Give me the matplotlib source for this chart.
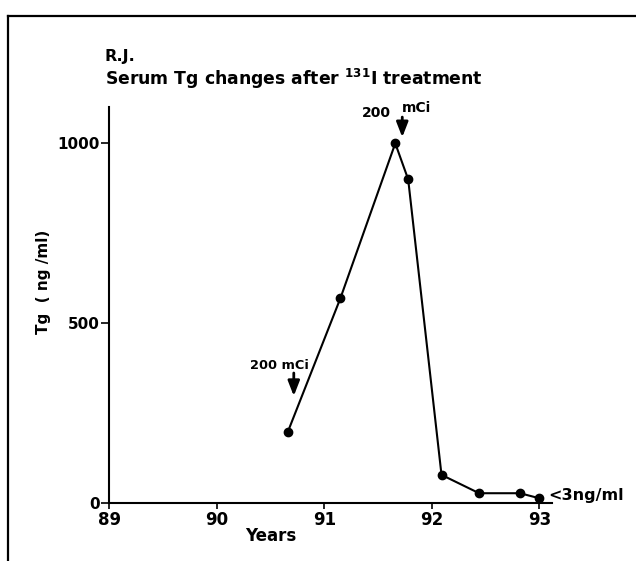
import matplotlib
matplotlib.use("Agg")
import matplotlib.pyplot as plt
from matplotlib.lines import Line2D

# --- data ----------------------------------------------------------------
years = [90.66, 91.15, 91.66, 91.78, 92.09, 92.44, 92.82, 93.0]
tg_ng_ml = [198, 570, 1000, 900, 79, 28, 28, 14]

x_ticks = [89, 90, 91, 92, 93]
y_ticks = [0, 500, 1000]
y_tick_labels = ["0", "500", "1000"]

# treatment marks: (arrow x, arrow top, arrow bottom)
doses = [(90.716, 362, 298), (91.725, 1073, 1017)]

plt.rcParams.update({
    "font.family": ["DejaVu Sans"],
    "font.weight": "bold",
    "mathtext.fontset": "custom",
    "mathtext.rm": "DejaVu Sans:bold",
    "mathtext.default": "rm",
})

W, H = 636, 561
fig = plt.figure(figsize=(W / 100, H / 100), dpi=100)
ax = fig.add_axes([109.3 / W, (H - 503.3) / H, 442.4 / W, 396.3 / H])

ax.plot(years, tg_ng_ml, color="black", linewidth=1.5,
        marker="o", markersize=6, markerfacecolor="black",
        markeredgecolor="black", clip_on=False, zorder=3)

ax.set_xlim(89, 93.115)
ax.set_ylim(0, 1101)
ax.set_xticks(x_ticks)
ax.set_xticklabels([str(t) for t in x_ticks])
ax.set_yticks(y_ticks)
ax.set_yticklabels(y_tick_labels)

for side in ("top", "right"):
    ax.spines[side].set_visible(False)
for side in ("left", "bottom"):
    ax.spines[side].set_linewidth(1.5)

ax.tick_params(axis="x", direction="out", length=4, width=1.2, pad=1.5,
               labelsize=12)
ax.tick_params(axis="y", direction="out", length=6, width=1.2, pad=1,
               labelsize=11)
for lab in ax.get_xticklabels() + ax.get_yticklabels():
    lab.set_fontweight("bold")

ax.set_xlabel("Years", fontsize=12, fontweight="bold")
ax.xaxis.set_label_coords((271 - 109.3) / 442.4, -0.06)
ax.xaxis.label.set_verticalalignment("top")

ax.set_ylabel("Tg  ( ng /ml)", fontsize=11, fontweight="bold")
ax.yaxis.set_label_coords((43.3 - 109.3) / 442.4, (503.3 - 281.7) / 396.3)
ax.yaxis.label.set_verticalalignment("center")

# dose annotations
arrow_kw = dict(arrowstyle="-|>,head_width=0.35,head_length=0.9",
                color="black", lw=2, shrinkA=0, shrinkB=0)
for x, top, bottom in doses:
    ax.annotate("", xy=(x, bottom), xytext=(x, top), arrowprops=arrow_kw,
                annotation_clip=False)
ax.text(90.58, 384, "200 mCi", ha="center", va="center", fontsize=9.3,
        fontweight="bold")
ax.text(91.48, 1084, "200", ha="center", va="center", fontsize=10,
        fontweight="bold", clip_on=False)
ax.text(91.86, 1098, "mCi", ha="center", va="center", fontsize=10,
        fontweight="bold", clip_on=False)
ax.text(93.08, 21, "<3ng/ml", ha="left", va="center", fontsize=11.5,
        fontweight="bold", clip_on=False)

# titles
fig.text(105 / W, 1 - 56 / H, "R.J.", ha="left", va="center",
         fontsize=11.5, fontweight="bold")
fig.text(105 / W, 1 - 79 / H, r"Serum Tg changes after $^{131}$I treatment",
         ha="left", va="center", fontsize=12.4, fontweight="bold")

# scanned frame (top and left edges)
fig.add_artist(Line2D([8 / W, 1], [1 - 16 / H, 1 - 16 / H],
                      transform=fig.transFigure, color="black", lw=1.6))
fig.add_artist(Line2D([8 / W, 8 / W], [0, 1 - 16 / H],
                      transform=fig.transFigure, color="black", lw=1.6))

fig.savefig("out.png", dpi=100)
